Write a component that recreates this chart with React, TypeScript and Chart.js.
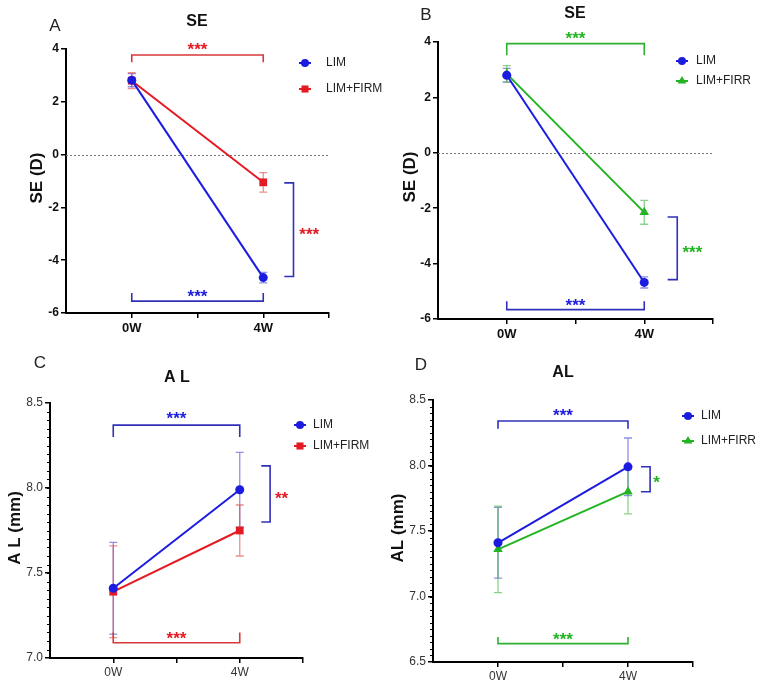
import React, { useEffect, useRef } from "react";
import { Chart, registerables } from "chart.js";

Chart.register(...registerables);

// ---------- data ----------
const categories = ["0W", "4W"];

const seTicks = [-6, -4, -2, 0, 2, 4];
const alTicksC = [7.0, 7.5, 8.0, 8.5];
const alTicksD = [6.5, 7.0, 7.5, 8.0, 8.5];

// Panel A: SE, LIM vs LIM+FIRM
const seLimA = [2.82, -4.66];
const seLimErrA = [0.25, 0.2];
const seFirm = [2.8, -1.05];
const seFirmErr = [0.3, 0.37];

// Panel B: SE, LIM vs LIM+FIRR
const seLimB = [2.8, -4.68];
const seLimErrB = [0.25, 0.2];
const seFirr = [2.85, -2.15];
const seFirrErr = [0.3, 0.43];

// Panel C: AL, LIM vs LIM+FIRM
const alLimC = [7.41, 7.99];
const alLimErrC = [0.27, 0.22];
const alFirm = [7.39, 7.75];
const alFirmErr = [0.27, 0.15];

// Panel D: AL, LIM vs LIM+FIRR
const alLimD = [7.41, 7.99];
const alLimErrD = [0.27, 0.22];
const alFirr = [7.36, 7.8];
const alFirrErr = [0.33, 0.17];

// ---------- styles ----------
const BLUE = "#1c1ce0";
const RED = "#e41a22";
const GREEN = "#22b422";
const BR_BLUE = "#3030b8";
const FONT = "'Liberation Sans', Arial, sans-serif";

type Style = "circle" | "rect" | "triangle";
type Series = {
  label: string;
  data: number[];
  err: number[];
  color: string;
  errColor: string;
  style: Style;
  radius: number;
};

const limSeries = (data: number[], err: number[]): Series => ({
  label: "LIM",
  data,
  err,
  color: BLUE,
  errColor: "rgba(70,70,210,0.6)",
  style: "circle",
  radius: 4.5,
});
const firmSeries = (data: number[], err: number[]): Series => ({
  label: "LIM+FIRM",
  data,
  err,
  color: RED,
  errColor: "rgba(225,70,70,0.6)",
  style: "rect",
  radius: 5.5,
});
const firrSeries = (data: number[], err: number[]): Series => ({
  label: "LIM+FIRR",
  data,
  err,
  color: GREEN,
  errColor: "rgba(60,180,60,0.6)",
  style: "triangle",
  radius: 5.5,
});

type HBr = { kind: "h"; y: number; end: number; color: string; label: string; labelColor: string; labelY: number };
type VBr = { kind: "v"; x: number; end: number; y0: number; y1: number; color: string; label: string; labelColor: string; labelX: number; labelY: number };

const panels = [
  {
    key: "A",
    canvas: { left: 0, top: 0, w: 400, h: 345 },
    area: { l: 66, t: 49, r: 329, b: 313 },
    yMin: -6, yMax: 4, yTicks: seTicks, decimals: 0, bold: true, minorStep: 0, zeroLine: true,
    series: [limSeries(seLimA, seLimErrA), firmSeries(seFirm, seFirmErr)],
    title: { text: "SE", x: 197, y: 22 },
    letter: { text: "A", x: 55, y: 26 },
    yTitle: { text: "SE (D)", x: 37, y: 178 },
    legend: { mx: 305, tx: 326, ys: [63, 89] },
    brackets: [
      { kind: "h", y: 3.77, end: 3.5, color: "#d83838", label: "***", labelColor: RED, labelY: 4.12 },
      { kind: "h", y: -5.55, end: -5.24, color: BR_BLUE, label: "***", labelColor: BLUE, labelY: -5.22 },
      { kind: "v", x: 1.23, end: 1.16, y0: -1.07, y1: -4.62, color: BR_BLUE, label: "***", labelColor: RED, labelX: 1.35, labelY: -2.86 },
    ] as (HBr | VBr)[],
  },
  {
    key: "B",
    canvas: { left: 383, top: 0, w: 384, h: 345 },
    area: { l: 438, t: 42, r: 713, b: 319 },
    yMin: -6, yMax: 4, yTicks: seTicks, decimals: 0, bold: true, minorStep: 0, zeroLine: true,
    series: [limSeries(seLimB, seLimErrB), firrSeries(seFirr, seFirrErr)],
    title: { text: "SE", x: 575, y: 14 },
    letter: { text: "B", x: 426, y: 15 },
    yTitle: { text: "SE (D)", x: 410, y: 177 },
    legend: { mx: 682, tx: 696, ys: [61, 81] },
    brackets: [
      { kind: "h", y: 3.94, end: 3.52, color: "#30b030", label: "***", labelColor: GREEN, labelY: 4.27 },
      { kind: "h", y: -5.66, end: -5.36, color: BR_BLUE, label: "***", labelColor: BLUE, labelY: -5.36 },
      { kind: "v", x: 1.24, end: 1.17, y0: -2.32, y1: -4.58, color: BR_BLUE, label: "***", labelColor: GREEN, labelX: 1.35, labelY: -3.45 },
    ] as (HBr | VBr)[],
  },
  {
    key: "C",
    canvas: { left: 0, top: 340, w: 400, h: 341 },
    area: { l: 50, t: 403, r: 303, b: 658 },
    yMin: 7.0, yMax: 8.5, yTicks: alTicksC, decimals: 1, bold: false, minorStep: 0.05, zeroLine: false,
    series: [limSeries(alLimC, alLimErrC), firmSeries(alFirm, alFirmErr)],
    title: { text: "A L", x: 177, y: 378 },
    letter: { text: "C", x: 40, y: 363 },
    yTitle: { text: "A L (mm)", x: 15, y: 528 },
    legend: { mx: 300, tx: 313, ys: [425, 446] },
    brackets: [
      { kind: "h", y: 8.37, end: 8.3, color: BR_BLUE, label: "***", labelColor: BLUE, labelY: 8.43 },
      { kind: "h", y: 7.09, end: 7.15, color: "#d83838", label: "***", labelColor: RED, labelY: 7.14 },
      { kind: "v", x: 1.24, end: 1.17, y0: 8.13, y1: 7.8, color: BR_BLUE, label: "**", labelColor: RED, labelX: 1.33, labelY: 7.96 },
    ] as (HBr | VBr)[],
  },
  {
    key: "D",
    canvas: { left: 383, top: 340, w: 384, h: 341 },
    area: { l: 433, t: 400, r: 693, b: 662 },
    yMin: 6.5, yMax: 8.5, yTicks: alTicksD, decimals: 1, bold: false, minorStep: 0.05, zeroLine: false,
    series: [limSeries(alLimD, alLimErrD), firrSeries(alFirr, alFirrErr)],
    title: { text: "AL", x: 563, y: 373 },
    letter: { text: "D", x: 421, y: 365 },
    yTitle: { text: "AL (mm)", x: 398, y: 528 },
    legend: { mx: 688, tx: 701, ys: [416, 441] },
    brackets: [
      { kind: "h", y: 8.34, end: 8.28, color: BR_BLUE, label: "***", labelColor: BLUE, labelY: 8.41 },
      { kind: "h", y: 6.64, end: 6.69, color: "#30b030", label: "***", labelColor: GREEN, labelY: 6.7 },
      { kind: "v", x: 1.17, end: 1.1, y0: 7.99, y1: 7.8, color: BR_BLUE, label: "*", labelColor: GREEN, labelX: 1.22, labelY: 7.9 },
    ] as (HBr | VBr)[],
  },
];

type Panel = (typeof panels)[number];

function drawMarker(ctx: CanvasRenderingContext2D, style: Style, x: number, y: number, r: number, color: string) {
  ctx.save();
  ctx.fillStyle = color;
  ctx.beginPath();
  if (style === "circle") {
    ctx.arc(x, y, r, 0, Math.PI * 2);
  } else if (style === "rect") {
    const s = r * Math.SQRT1_2;
    ctx.rect(x - s, y - s, 2 * s, 2 * s);
  } else {
    ctx.moveTo(x, y - r);
    ctx.lineTo(x + 0.866 * r, y + 0.5 * r);
    ctx.lineTo(x - 0.866 * r, y + 0.5 * r);
    ctx.closePath();
  }
  ctx.fill();
  ctx.restore();
}

function stars(ctx: CanvasRenderingContext2D, text: string, cx: number, cy: number, color: string) {
  const size = 17;
  ctx.save();
  ctx.font = `bold ${size}px ${FONT}`;
  ctx.fillStyle = color;
  ctx.textAlign = "center";
  ctx.textBaseline = "alphabetic";
  ctx.fillText(text, cx, cy + 0.56 * size);
  ctx.restore();
}

function buildConfig(p: Panel): any {
  const ox = p.canvas.left;
  const oy = p.canvas.top;
  const padTop = p.area.t - oy;
  const padRight = p.canvas.left + p.canvas.w - p.area.r;
  const yW = p.area.l - ox;
  const xH = oy + p.canvas.h - p.area.b;
  const tickFontX = p.bold ? { family: FONT, size: 13, weight: "bold" } : { family: FONT, size: 12, weight: "normal" };
  const tickFontY = p.bold ? { family: FONT, size: 12, weight: "bold" } : { family: FONT, size: 12, weight: "normal" };
  const tickColor = p.bold ? "#111" : "#333";

  const decor = {
    id: "decor" + p.key,
    beforeDatasetsDraw(chart: any) {
      const ctx: CanvasRenderingContext2D = chart.ctx;
      const xs = chart.scales.x;
      const ys = chart.scales.y;
      const area = chart.chartArea;
      if (p.zeroLine) {
        ctx.save();
        ctx.strokeStyle = "#777";
        ctx.lineWidth = 1;
        ctx.setLineDash([2, 2]);
        const y0 = Math.round(ys.getPixelForValue(0)) + 0.5;
        ctx.beginPath();
        ctx.moveTo(area.left, y0);
        ctx.lineTo(area.right, y0);
        ctx.stroke();
        ctx.restore();
      }
      // error bars
      p.series.forEach((s) => {
        s.data.forEach((v, i) => {
          const px = xs.getPixelForValue(i);
          const t = ys.getPixelForValue(v + s.err[i]);
          const b = ys.getPixelForValue(v - s.err[i]);
          ctx.save();
          ctx.strokeStyle = s.errColor;
          ctx.lineWidth = 1.3;
          ctx.beginPath();
          ctx.moveTo(px, t);
          ctx.lineTo(px, b);
          ctx.moveTo(px - 4, t);
          ctx.lineTo(px + 4, t);
          ctx.moveTo(px - 4, b);
          ctx.lineTo(px + 4, b);
          ctx.stroke();
          ctx.restore();
        });
      });
    },
    afterDraw(chart: any) {
      const ctx: CanvasRenderingContext2D = chart.ctx;
      const xs = chart.scales.x;
      const ys = chart.scales.y;
      const area = chart.chartArea;
      // minor ticks
      if (p.minorStep > 0) {
        ctx.save();
        ctx.strokeStyle = "#000";
        ctx.lineWidth = 1.2;
        const n = Math.round((p.yMax - p.yMin) / p.minorStep);
        ctx.beginPath();
        for (let k = 1; k < n; k++) {
          const v = p.yMin + k * p.minorStep;
          const py = Math.round(ys.getPixelForValue(v)) + 0.5;
          ctx.moveTo(area.left - 3, py);
          ctx.lineTo(area.left, py);
        }
        ctx.stroke();
        ctx.restore();
      }
      // brackets
      p.brackets.forEach((br) => {
        ctx.save();
        ctx.strokeStyle = br.color;
        ctx.lineWidth = 1.6;
        ctx.beginPath();
        if (br.kind === "h") {
          const x0 = xs.getPixelForValue(0);
          const x1 = xs.getPixelForValue(1);
          const yl = ys.getPixelForValue(br.y);
          const ye = ys.getPixelForValue(br.end);
          ctx.moveTo(x0, ye);
          ctx.lineTo(x0, yl);
          ctx.lineTo(x1, yl);
          ctx.lineTo(x1, ye);
          ctx.stroke();
          ctx.restore();
          stars(ctx, br.label, (x0 + x1) / 2, ys.getPixelForValue(br.labelY), br.labelColor);
        } else {
          const xl = xs.getPixelForValue(br.x);
          const xe = xs.getPixelForValue(br.end);
          const y0 = ys.getPixelForValue(br.y0);
          const y1 = ys.getPixelForValue(br.y1);
          ctx.moveTo(xe, y0);
          ctx.lineTo(xl, y0);
          ctx.lineTo(xl, y1);
          ctx.lineTo(xe, y1);
          ctx.stroke();
          ctx.restore();
          stars(ctx, br.label, xs.getPixelForValue(br.labelX), ys.getPixelForValue(br.labelY), br.labelColor);
        }
      });
      // legend
      p.series.forEach((s, i) => {
        const ly = p.legend.ys[i] - oy;
        const mx = p.legend.mx - ox;
        ctx.save();
        ctx.strokeStyle = s.color;
        ctx.lineWidth = 2;
        ctx.beginPath();
        ctx.moveTo(mx - 6, ly);
        ctx.lineTo(mx + 6, ly);
        ctx.stroke();
        ctx.restore();
        drawMarker(ctx, s.style, mx, ly, s.style === "circle" ? 4 : 5, s.color);
        ctx.save();
        ctx.font = `12px ${FONT}`;
        ctx.fillStyle = "#222";
        ctx.textAlign = "left";
        ctx.textBaseline = "middle";
        ctx.fillText(s.label, p.legend.tx - ox, ly);
        ctx.restore();
      });
      // titles
      ctx.save();
      ctx.fillStyle = "#111";
      ctx.textAlign = "center";
      ctx.textBaseline = "middle";
      ctx.font = `bold 16px ${FONT}`;
      ctx.fillText(p.title.text, p.title.x - ox, p.title.y - oy);
      ctx.font = `17px ${FONT}`;
      ctx.fillStyle = "#222";
      ctx.fillText(p.letter.text, p.letter.x - ox, p.letter.y - oy);
      ctx.translate(p.yTitle.x - ox, p.yTitle.y - oy);
      ctx.rotate(-Math.PI / 2);
      ctx.font = `bold 17px ${FONT}`;
      ctx.fillStyle = "#111";
      ctx.fillText(p.yTitle.text, 0, 0);
      ctx.restore();
    },
  };

  return {
    type: "line",
    data: {
      datasets: p.series.map((s) => ({
        label: s.label,
        data: s.data.map((v, i) => ({ x: i, y: v })),
        borderColor: s.color,
        backgroundColor: s.color,
        borderWidth: 2,
        pointStyle: s.style,
        pointRadius: s.radius,
        pointBorderWidth: 0,
        pointBackgroundColor: s.color,
        fill: false,
        tension: 0,
      })),
    },
    options: {
      animation: false,
      responsive: false,
      maintainAspectRatio: false,
      events: [],
      layout: { padding: { left: 0, top: padTop, right: padRight, bottom: 0 } },
      plugins: { legend: { display: false }, tooltip: { enabled: false }, title: { display: false } },
      scales: {
        x: {
          type: "linear",
          min: -0.5,
          max: 1.5,
          afterBuildTicks: (scale: any) => {
            scale.ticks = [0, 0.5, 1, 1.5].map((v) => ({ value: v }));
          },
          afterFit: (scale: any) => {
            scale.height = xH;
          },
          ticks: {
            autoSkip: false,
            maxRotation: 0,
            padding: p.bold ? 3 : 2,
            color: tickColor,
            font: tickFontX,
            callback: (v: number) => (v === 0 ? categories[0] : v === 1 ? categories[1] : ""),
          },
          grid: { display: true, drawOnChartArea: false, drawTicks: true, tickLength: 5, color: "#000", lineWidth: 1.5 },
          border: { display: true, color: "#000", width: 2 },
        },
        y: {
          type: "linear",
          min: p.yMin,
          max: p.yMax,
          afterBuildTicks: (scale: any) => {
            scale.ticks = p.yTicks.map((v) => ({ value: v }));
          },
          afterFit: (scale: any) => {
            scale.width = yW;
          },
          ticks: {
            autoSkip: false,
            padding: 2,
            color: tickColor,
            font: tickFontY,
            callback: (v: number) => v.toFixed(p.decimals),
          },
          grid: { display: true, drawOnChartArea: false, drawTicks: true, tickLength: 5, color: "#000", lineWidth: 1.5 },
          border: { display: true, color: "#000", width: 2 },
        },
      },
    },
    plugins: [decor],
  };
}

function PanelChart({ p }: { p: Panel }) {
  const ref = useRef<HTMLCanvasElement>(null);
  useEffect(() => {
    const c = ref.current;
    if (!c) return;
    const chart = new Chart(c, buildConfig(p));
    return () => chart.destroy();
  }, [p]);
  return (
    <canvas
      ref={ref}
      width={p.canvas.w}
      height={p.canvas.h}
      style={{ position: "absolute", left: p.canvas.left, top: p.canvas.top, width: p.canvas.w, height: p.canvas.h }}
    />
  );
}

export default function App() {
  return (
    <div style={{ position: "absolute", left: 0, top: 0, width: 767, height: 681, background: "#fff", overflow: "hidden" }}>
      {panels.map((p) => (
        <PanelChart key={p.key} p={p} />
      ))}
    </div>
  );
}
